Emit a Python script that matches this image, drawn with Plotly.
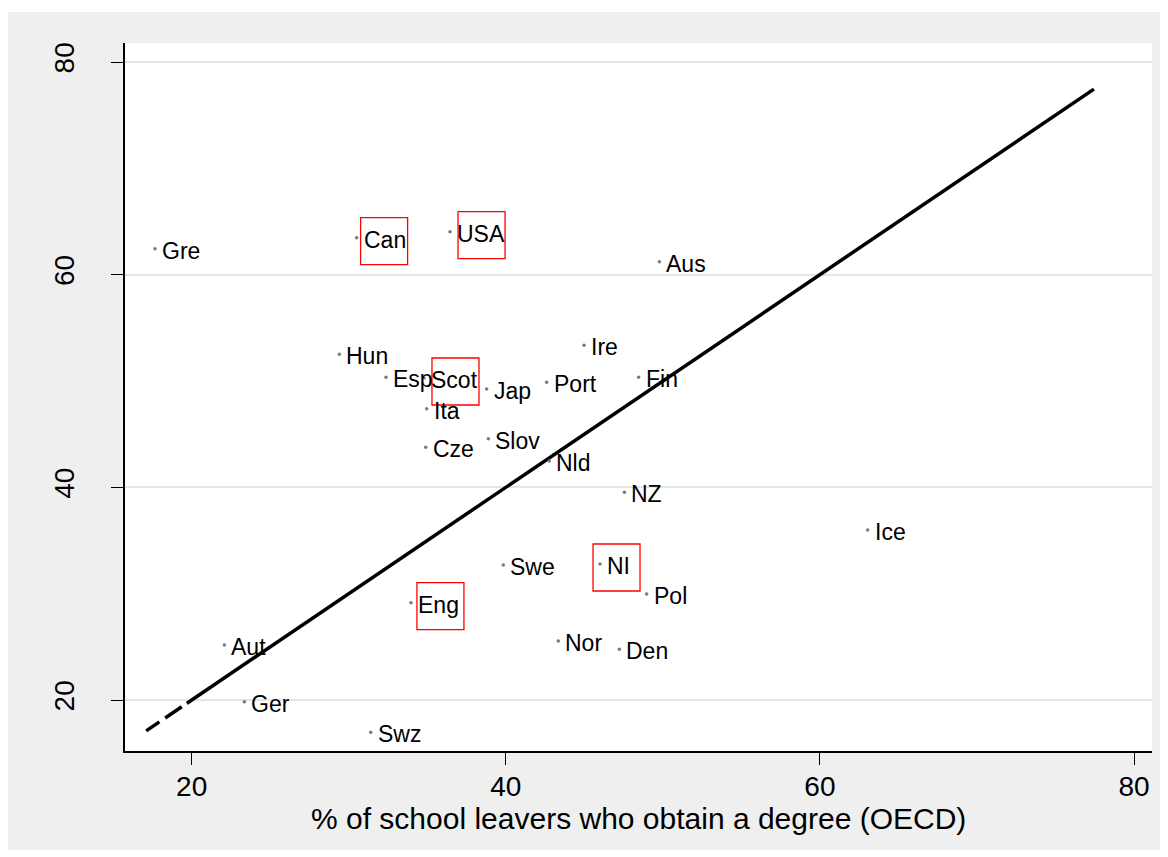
import plotly.graph_objects as go

# ---------------- data ----------------
countries = ["Gre", "Can", "USA", "Aus", "Hun", "Esp", "Scot", "Ita", "Jap", "Port",
             "Ire", "Fin", "Cze", "Slov", "Nld", "NZ", "Ice", "Swe", "NI", "Pol",
             "Eng", "Nor", "Den", "Aut", "Ger", "Swz"]
degree_pct = [17.66, 30.50, 36.45, 49.78, 29.40, 32.37, 34.79, 34.96, 38.78, 42.60,
              44.98, 48.46, 34.90, 38.89, 42.77, 47.55, 63.04, 39.84, 46.00, 48.97,
              33.96, 43.34, 47.23, 22.08, 23.35, 31.40]
other_pct = [62.44, 63.48, 64.04, 61.22, 52.51, 50.35, 50.28, 47.39, 49.25, 49.88,
             53.36, 50.35, 43.76, 44.57, 42.48, 39.53, 35.99, 32.69, 32.79, 29.97,
             29.15, 25.55, 24.77, 25.17, 19.84, 16.96]
highlighted = ["Can", "USA", "Scot", "NI", "Eng"]

# 45-degree reference line (dashed start, then solid)
line_dashed = [17.1, 19.7]
line_solid = [19.7, 77.45]

x_ticks = [20, 40, 60, 80]
y_ticks = [20, 40, 60, 80]
x_title = "% of school leavers who obtain a degree (OECD)"

# ---------------- layout constants ----------------
W, H = 1160, 842
ML, MR, MT, MB = 117, 16, 35, 99
PW, PH = W - ML - MR, H - MT - MB
FONT = "Liberation Sans, Arial, sans-serif"

# per-box horizontal offset (px) of highlight box relative to point
box_dx = {"Can": 4, "USA": 8, "Scot": 8, "NI": -7, "Eng": 6}

fig = go.Figure()

fig.add_trace(go.Scatter(x=line_dashed, y=line_dashed, mode="lines",
                         line=dict(color="black", width=3.5, dash="16px,7px,20px,6px"),
                         hoverinfo="skip", showlegend=False))
fig.add_trace(go.Scatter(x=line_solid, y=line_solid, mode="lines",
                         line=dict(color="black", width=3.5),
                         hoverinfo="skip", showlegend=False))
fig.add_trace(go.Scatter(x=degree_pct, y=other_pct, mode="markers",
                         marker=dict(size=3.5, color="#7a7a7a"),
                         text=countries, showlegend=False))

annotations = []
for c, xv, yv in zip(countries, degree_pct, other_pct):
    annotations.append(dict(x=xv, y=yv, xref="x", yref="y", text=c,
                            showarrow=False, xanchor="left", yanchor="middle",
                            xshift=6, yshift=-2, borderpad=0,
                            font=dict(family=FONT, size=23, color="black")))


def px_to_paper_x(px):
    return (px - ML) / PW


def px_to_paper_y(py):
    return (H - MB - py) / PH


# x-axis title
annotations.append(dict(x=0.5, y=px_to_paper_y(811), xref="paper", yref="paper",
                        text=x_title, showarrow=False, xanchor="center", yanchor="middle",
                        font=dict(family=FONT, size=30, color="black")))

shapes = []
for c, xv, yv in zip(countries, degree_pct, other_pct):
    if c in highlighted:
        dx = box_dx[c]
        shapes.append(dict(type="rect", xref="x", yref="y",
                           xsizemode="pixel", ysizemode="pixel",
                           xanchor=xv, yanchor=yv,
                           x0=dx, x1=dx + 47, y0=-27, y1=20,
                           line=dict(color="#ff0000", width=1.3),
                           fillcolor="rgba(0,0,0,0)", layer="above"))

# thin white strip at the very top of the figure
shapes.append(dict(type="rect", xref="paper", yref="paper",
                   x0=px_to_paper_x(0), x1=px_to_paper_x(W),
                   y0=px_to_paper_y(4), y1=px_to_paper_y(0),
                   line=dict(width=0), fillcolor="white", layer="below"))

fig.update_layout(
    width=W, height=H,
    margin=dict(l=ML, r=MR, t=MT, b=MB, autoexpand=False),
    paper_bgcolor="#efefef",
    plot_bgcolor="white",
    font=dict(family=FONT, color="black"),
    annotations=annotations,
    shapes=shapes,
    showlegend=False,
)
fig.update_xaxes(range=[15.753, 81.146], tickvals=x_ticks,
                 ticks="outside", ticklen=12, tickwidth=1.3, tickcolor="black",
                 showline=True, linecolor="black", linewidth=1.5,
                 showgrid=False, zeroline=False,
                 tickfont=dict(family=FONT, size=28, color="black"),
                 ticklabelstandoff=-2,
                 automargin=False)
fig.update_yaxes(range=[15.204, 81.787], tickvals=y_ticks, tickangle=-90,
                 ticks="outside", ticklen=12, tickwidth=1.3, tickcolor="black",
                 showline=True, linecolor="black", linewidth=1.5,
                 showgrid=True, gridcolor="#e6e6e6", gridwidth=2, zeroline=False,
                 tickfont=dict(family=FONT, size=28, color="black"),
                 ticklabelstandoff=26,
                 automargin=False)

fig.write_html("out.html")
